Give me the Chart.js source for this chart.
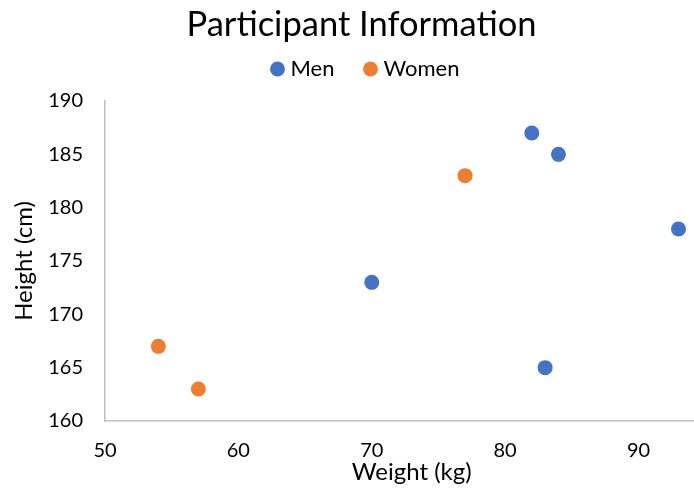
<!DOCTYPE html>
<html>
<head>
<meta charset="utf-8">
<script src="https://cdn.jsdelivr.net/npm/chart.js@4/dist/chart.umd.min.js"></script>
<style>
  html, body { margin: 0; padding: 0; background: #fff; overflow: hidden; }
  #wrap { width: 726px; height: 489px; }
</style>
</head>
<body>
<div id="wrap"><canvas id="c" width="726" height="489"></canvas></div>
<script>
// Participant measurements: weight (kg) and height (cm)
const menWeight   = [82, 84, 93, 70, 83];
const menHeight   = [187, 185, 178, 173, 165];
const womenWeight = [77, 54, 57];
const womenHeight = [183, 167, 163];

const xTicks = [50, 60, 70, 80, 90];
const yTicks = [160, 165, 170, 175, 180, 185, 190];

const FONT = 'Lato, "Open Sans", sans-serif';
const AXIS_GREY = '#BFBFBF';

// legend block height (px) and horizontal nudge of its row (px)
const LEGEND_HEIGHT = 77;
const LEGEND_SHIFT = 6;

function toPoints(xs, ys) {
  return xs.map((x, i) => ({ x: x, y: ys[i] }));
}

function keepTicks(list) {
  return function (scale) {
    scale.ticks = list.map(v => ({ value: v }));
  };
}

// fixes the legend's height and moves its row a little to the right
const legendLayout = {
  id: 'legendLayout',
  afterInit(chart) {
    const legend = chart.legend;
    const baseFit = legend.fit;
    legend.fit = function () {
      baseFit.call(this);
      this.height = LEGEND_HEIGHT;
      if (this.lineWidths && this.lineWidths.length) {
        this.lineWidths[0] -= 2 * LEGEND_SHIFT;
      }
    };
  }
};

new Chart(document.getElementById('c'), {
  type: 'scatter',
  data: {
    datasets: [
      {
        label: 'Men',
        data: toPoints(menWeight, menHeight),
        backgroundColor: '#4472C4',
        borderColor: '#4472C4',
        pointRadius: 7.5,
        pointHoverRadius: 7.5,
        borderWidth: 0
      },
      {
        label: 'Women',
        data: toPoints(womenWeight, womenHeight),
        backgroundColor: '#ED7D31',
        borderColor: '#ED7D31',
        pointRadius: 7.5,
        pointHoverRadius: 7.5,
        borderWidth: 0
      }
    ]
  },
  plugins: [legendLayout],
  options: {
    responsive: false,
    animation: false,
    events: [],
    layout: { padding: { left: 0, right: 3, top: 4, bottom: 0 } },
    plugins: {
      tooltip: { enabled: false },
      title: {
        display: true,
        // ZWNJ keeps the "ti" pair from turning into a ligature
        text: 'Participant Informa\u200Ction',
        color: '#000',
        font: { family: FONT, size: 34.5, weight: 'normal' },
        padding: { top: 0, bottom: -21.4 }
      },
      legend: {
        display: true,
        position: 'top',
        labels: {
          usePointStyle: true,
          pointStyle: 'circle',
          boxWidth: 4,
          boxHeight: 10.5,
          padding: 34,
          color: '#000',
          font: { family: FONT, size: 22 }
        }
      }
    },
    scales: {
      x: {
        type: 'linear',
        min: 50,
        max: 96,
        afterBuildTicks: keepTicks(xTicks),
        afterFit: function (s) { s.height = 68; },
        grid: { display: false, drawTicks: false },
        border: { display: true, color: AXIS_GREY, width: 1.5 },
        ticks: {
          color: '#000',
          padding: 18,
          maxRotation: 0,
          font: { family: FONT, size: 20 }
        },
        title: {
          display: true,
          text: 'Weight (kg)',
          color: '#000',
          font: { family: FONT, size: 24 },
          padding: { top: 0, bottom: 2 }
        }
      },
      y: {
        type: 'linear',
        min: 160,
        max: 190,
        afterBuildTicks: keepTicks(yTicks),
        afterFit: function (s) { s.width = 105; },
        grid: { display: false, drawTicks: false },
        border: { display: true, color: AXIS_GREY, width: 1.5 },
        ticks: {
          color: '#000',
          padding: 22,
          font: { family: FONT, size: 20 }
        },
        title: {
          display: true,
          text: 'Height (cm)',
          color: '#000',
          font: { family: FONT, size: 24 },
          padding: { top: 10, bottom: 0 }
        }
      }
    }
  }
});
</script>
</body>
</html>
